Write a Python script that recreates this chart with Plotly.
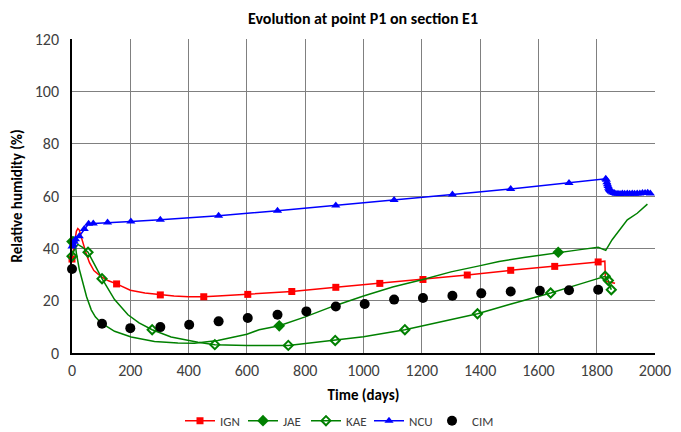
import plotly.graph_objects as go

# ---------------- data ----------------
ign_line_x = [0, 5, 10, 15, 20, 25, 30, 40, 50, 60, 75, 100, 125, 153, 200, 250, 303, 350, 400, 452, 500, 603, 754, 905, 1056, 1204, 1356, 1505, 1656, 1805, 1828, 1830, 1863]
ign_line_y = [35.9, 39, 43, 46.5, 47.6, 47, 45, 41, 37.5, 34.5, 31.5, 29.2, 27.6, 26.4, 24.0, 22.9, 22.2, 21.8, 21.5, 21.5, 21.8, 22.4, 23.5, 25.1, 26.6, 28.1, 29.8, 31.6, 33.1, 34.8, 35.1, 27.4, 26.7]
ign_mark_x = [0, 153, 303, 452, 603, 754, 905, 1056, 1204, 1356, 1505, 1656, 1805]
ign_mark_y = [35.9, 26.4, 22.2, 21.5, 22.4, 23.5, 25.1, 26.6, 28.1, 29.8, 31.6, 33.1, 34.8]

jae_line_x = [0, 5, 10, 15, 25, 38, 50, 66, 80, 100, 146, 203, 283, 363, 420, 500, 600, 642, 711, 800, 894, 1000, 1100, 1204, 1300, 1397, 1465, 1550, 1668, 1750, 1805, 1831, 1853, 1880, 1905, 1939, 1974]
jae_line_y = [42.6, 44.5, 42.5, 38.2, 32, 26.7, 21.5, 16.5, 13.8, 11.5, 8.3, 6.1, 4.4, 3.8, 3.7, 4.8, 7.2, 8.9, 10.4, 13.8, 17.8, 21.8, 25.2, 28.1, 31, 33.3, 35, 36.5, 38.5, 39.6, 40.4, 39.2, 43.3, 47.5, 50.9, 53.4, 56.9]
jae_mark_x = [0, 711, 1668]
jae_mark_y = [42.6, 10.4, 38.5]

kae_line_x = [0, 10, 20, 35, 55, 80, 103, 146, 192, 230, 275, 340, 432, 490, 600, 742, 903, 1000, 1142, 1250, 1391, 1500, 1642, 1750, 1829, 1840, 1850]
kae_line_y = [37, 40, 41.5, 40.5, 38.5, 33, 28.4, 20.4, 14.6, 11.5, 8.9, 6.1, 4.1, 3.2, 2.9, 2.9, 4.8, 6.2, 8.9, 11.5, 15, 18.5, 22.9, 26.6, 29.3, 27.7, 24.2]
kae_mark_x = [0, 55, 103, 275, 490, 742, 903, 1142, 1391, 1642, 1829, 1840, 1850]
kae_mark_y = [37, 38.5, 28.4, 8.9, 3.2, 2.9, 4.8, 8.9, 15, 22.9, 29.3, 27.7, 24.2]

ncu_x = [0, 4, 8, 12, 25, 42, 57, 73, 122, 202, 303, 503, 705, 905, 1105, 1305, 1505, 1705, 1831,
         1833, 1835, 1837, 1839, 1841, 1843, 1845, 1848, 1851, 1855, 1860, 1866, 1873, 1880, 1888,
         1896, 1905, 1913, 1922, 1930, 1939, 1948, 1957, 1966, 1975, 1984]
ncu_y = [40.7, 41.5, 42.5, 43.5, 44.6, 47.4, 49.4, 49.5, 49.9, 50.3, 50.9, 52.5, 54.4, 56.4, 58.5, 60.6, 62.7, 65, 66.6,
         66.2, 65.3, 64.5, 63.8, 63.2, 62.7, 62.3, 61.9, 61.6, 61.3, 61.1, 60.9, 60.9, 60.8, 61.0,
         60.9, 61.0, 60.9, 61.0, 60.9, 61.0, 61.0, 61.1, 61.1, 61.2, 61.0]

cim_x = [0, 103, 200, 303, 402, 503, 603, 705, 804, 905, 1004, 1105, 1204, 1305, 1404, 1505, 1605, 1705, 1805]
cim_y = [32.1, 11.2, 9.5, 9.9, 10.8, 12.1, 13.4, 14.6, 15.9, 17.8, 18.7, 20.4, 21.0, 21.9, 22.8, 23.5, 23.8, 24.0, 24.2]

x_ticks = list(range(0, 2001, 200))
y_ticks = list(range(0, 121, 20))

# ---------------- figure ----------------
FONT = "Carlito, Lato, sans-serif"
fig = go.Figure()

def add_series(name, lx, ly, mx, my, color, symbol, size, mline=0, lw=None):
    marker = dict(color=color, symbol=symbol, size=size, line=dict(color=color, width=mline))
    if lx is not None:
        fig.add_trace(go.Scatter(x=lx, y=ly, mode="lines", line=dict(color=color, width=1.5),
                                 showlegend=False, hoverinfo="skip", cliponaxis=False))
    fig.add_trace(go.Scatter(x=mx, y=my, mode="markers", marker=marker, showlegend=False,
                             cliponaxis=False))
    leg = go.Scatter(x=[None], y=[None], name=name,
                     mode="lines+markers" if lx is not None else "markers",
                     line=dict(color=color, width=1.5), marker=marker)
    if lw:
        leg.legendwidth = lw
    fig.add_trace(leg)

add_series("IGN", ign_line_x, ign_line_y, ign_mark_x, ign_mark_y, "#FF0000", "square", 7)
add_series("JAE", jae_line_x, jae_line_y, jae_mark_x, jae_mark_y, "#008000", "diamond", 9)
add_series("KAE", kae_line_x, kae_line_y, kae_mark_x, kae_mark_y, "#008000", "diamond-open", 7, mline=2)
add_series("NCU", ncu_x, ncu_y, ncu_x, ncu_y, "#0000FF", "triangle-up", 8)
add_series("CIM", None, None, cim_x, cim_y, "#000000", "circle", 10, lw=32)

# the page body has an 8px margin, so the figure is sized/offset to fit the 681x432 window
fig.update_layout(
    width=673, height=424,
    paper_bgcolor="white", plot_bgcolor="white",
    margin=dict(l=64, r=26, t=31, b=79),
    font=dict(family=FONT, size=15, color="#404040"),
    title=dict(text="<b>Evolution at point P1 on section E1</b>", x=0.5275, xanchor="center",
               y=0.976, yanchor="middle", font=dict(family=FONT, size=16, color="#000000")),
    legend=dict(orientation="h", xref="container", yref="container", x=0.5, xanchor="center",
                y=0.062, yanchor="top", font=dict(family=FONT, size=13, color="#404040"),
                itemwidth=30, tracegroupgap=0, entrywidth=18),
)
fig.update_xaxes(
    range=[0, 2000], tickvals=x_ticks, showgrid=True, gridcolor="#808080", gridwidth=1,
    showline=True, linecolor="#000000", linewidth=1.5, mirror=False, zeroline=False,
    ticks="outside", ticklen=2, tickcolor="rgba(0,0,0,0)", tickfont=dict(size=16),
    automargin=False,
    title=dict(text="<b>Time (days)</b>", font=dict(size=15, color="#000000"), standoff=11),
)
fig.update_yaxes(
    range=[0, 120], tickvals=y_ticks, showgrid=True, gridcolor="#808080", gridwidth=1,
    showline=True, linecolor="#000000", linewidth=1.5, zeroline=False,
    ticks="outside", ticklen=8, tickcolor="rgba(0,0,0,0)", tickfont=dict(size=16),
    automargin=False,
    title=dict(text="<b>Relative humidity (%)</b>", font=dict(size=15, color="#000000"), standoff=8),
)
fig.write_html("out.html")
